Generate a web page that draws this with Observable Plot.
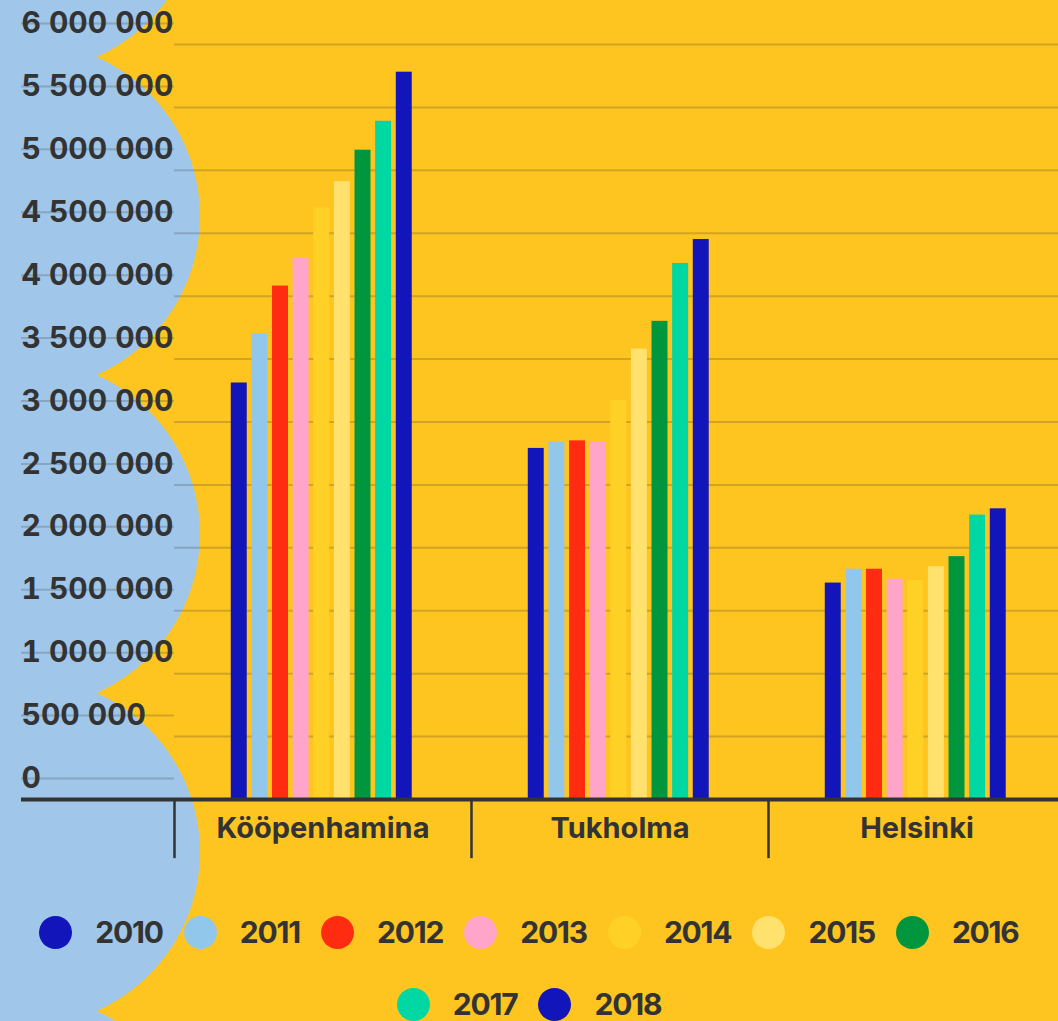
<!DOCTYPE html>
<html>
<head>
<meta charset="utf-8">
<script src="https://cdn.jsdelivr.net/npm/d3@7"></script>
<script src="https://cdn.jsdelivr.net/npm/@observablehq/plot@0.6"></script>
<style>
html, body { margin: 0; padding: 0; }
body {
  width: 1058px; height: 1021px; overflow: hidden;
  background-color: #FEC520;
  background-repeat: no-repeat;
  background-image:
    radial-gradient(circle 174px at 26px -102px, #A0C6E9 173.4px, rgba(160,198,233,0) 174.4px),
    radial-gradient(circle 174px at 26px 216px, #A0C6E9 173.4px, rgba(160,198,233,0) 174.4px),
    radial-gradient(circle 174px at 26px 534px, #A0C6E9 173.4px, rgba(160,198,233,0) 174.4px),
    radial-gradient(circle 174px at 26px 852px, #A0C6E9 173.4px, rgba(160,198,233,0) 174.4px),
    radial-gradient(circle 174px at 26px 1170px, #A0C6E9 173.4px, rgba(160,198,233,0) 174.4px);
  font-family: Inter, sans-serif;
}
#chart { width: 1058px; overflow: visible; }
#chart svg { display: block; }
#legend {
  display: flex; flex-wrap: wrap; justify-content: center;
  column-gap: 21px; row-gap: 39px; margin-top: 35.5px; width: 1058px;
}
.item { display: flex; align-items: center; height: 33px; }
.dot { width: 33px; height: 33px; border-radius: 50%; margin-right: 23px; }
.lab { font-weight: 700; font-size: 30px; line-height: 0.9; color: #333; letter-spacing: -1.2px; }
</style>
</head>
<body>
<div id="chart"></div>
<div id="legend"></div>
<script>
const cities = ["Kööpenhamina", "Tukholma", "Helsinki"];
const years = [2010, 2011, 2012, 2013, 2014, 2015, 2016, 2017, 2018];
const copenhagen = [3310000, 3700000, 4080000, 4300000, 4700000, 4910000, 5160000, 5390000, 5780000];
const stockholm  = [2790000, 2840000, 2850000, 2840000, 3170000, 3580000, 3800000, 4260000, 4450000];
const helsinki   = [1720000, 1830000, 1830000, 1750000, 1740000, 1850000, 1930000, 2260000, 2310000];
const yearColors = ["#1215B9", "#92C7EC", "#FF2C12", "#FFA5C9", "#FFD126", "#FFE16E", "#00963E", "#00D7A2", "#1215B9"];
const yTicks = [0, 500000, 1000000, 1500000, 2000000, 2500000, 3000000, 3500000, 4000000, 4500000, 5000000, 5500000, 6000000];

const seriesByCity = [copenhagen, stockholm, helsinki];
const rows = cities.flatMap((city, i) => years.map((year, j) => ({city, year, value: seriesByCity[i][j]})));

const fmt = d3.formatLocale({decimal: ",", thousands: " ", grouping: [3], currency: ["", " €"]}).format(",d");

const marginLeft = 173;
const facetWidth = 297.5;
const xDomain = [years[0] - 2.64, years[0] - 2.64 + 14.4];
const ink = "#333333";

const plot = Plot.plot({
  width: marginLeft + cities.length * facetWidth,
  height: 880,
  marginLeft, marginRight: 0, marginTop: 44, marginBottom: 81,
  style: {background: "transparent", maxWidth: "none", overflow: "visible", fontFamily: "Inter, sans-serif"},
  fx: {domain: cities, padding: 0, label: null},
  x: {domain: xDomain, axis: null},
  y: {domain: [0, 6000000]},
  color: {type: "ordinal", domain: years, range: yearColors},
  marks: [
    Plot.ruleY(yTicks.slice(1), {stroke: ink, strokeOpacity: 0.22, strokeWidth: 2}),
    Plot.axisY({
      ticks: yTicks, tickSize: 153, tickPadding: 0, textAnchor: "start", dy: -21,
      tickFormat: fmt, fontSize: 30, fontWeight: 700, fill: ink,
      stroke: ink, strokeOpacity: 0.22, strokeWidth: 2, label: null
    }),
    Plot.rect(rows, {
      fx: "city", x1: "year", x2: d => d.year + 1, y1: 0, y2: "value",
      fill: "year", insetLeft: 2.33, insetRight: 2.33
    }),
    Plot.ruleY([0], {stroke: ink, strokeWidth: 4}),
    Plot.axisY({ticks: [0], tickSize: 153, stroke: ink, strokeWidth: 4, tickFormat: () => "", label: null}),
    Plot.ruleX([xDomain[0]], {y1: 0, y2: -470000, stroke: ink, strokeWidth: 2.5}),
    Plot.axisFx({anchor: "bottom", tickSize: 0, tickPadding: 18, fontSize: 29, fontWeight: 700, fill: ink, label: null})
  ]
});
document.getElementById("chart").appendChild(plot);

const legend = d3.select("#legend");
years.forEach((y, i) => {
  const item = legend.append("div").attr("class", "item");
  item.append("div").attr("class", "dot").style("background", yearColors[i]);
  item.append("div").attr("class", "lab").text(y);
});
</script>
</body>
</html>
